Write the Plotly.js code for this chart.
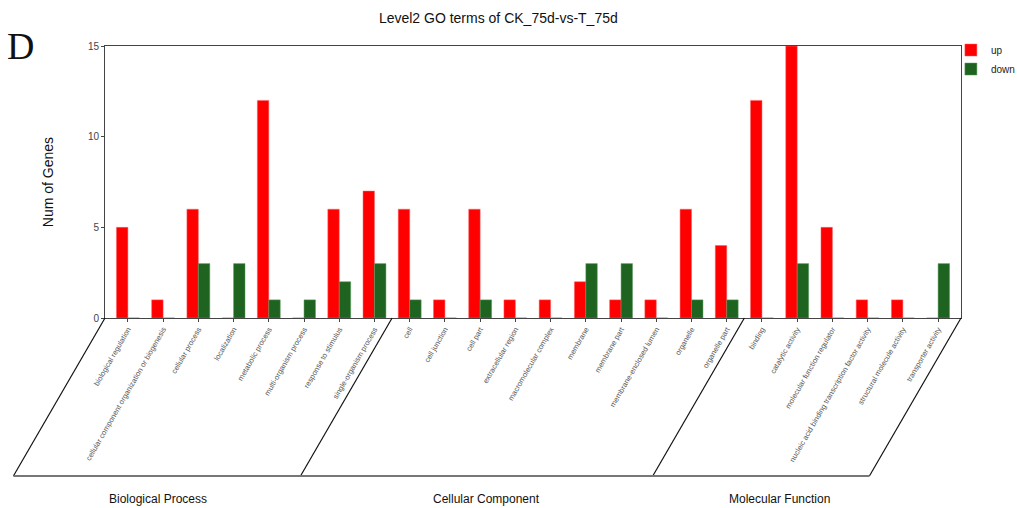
<!DOCTYPE html>
<html><head><meta charset="utf-8">
<script src="https://cdn.plot.ly/plotly-3.0.1.min.js"></script>
<style>body{margin:0;background:#fff}#chart{width:1017px;height:508px}</style>
</head><body><div id="chart"></div>
<script>
const categories = [
 "biological regulation","cellular component organization or biogenesis","cellular process","localization",
 "metabolic process","multi-organism process","response to stimulus","single-organism process",
 "cell","cell junction","cell part","extracellular region","macromolecular complex","membrane",
 "membrane part","membrane-enclosed lumen","organelle","organelle part",
 "binding","catalytic activity","molecular function regulator","nucleic acid binding transcription factor activity",
 "structural molecule activity","transporter activity"];
const upValues   = [5,1,6,0,12,0,6,7, 6,1,6,1,1,2,1,1,6,4, 12,15,5,1,1,0];
const downValues = [0,0,3,3,1,1,2,3, 1,0,1,0,0,3,3,0,1,1, 0,3,0,0,0,3];
const groupNames = ["Biological Process","Cellular Component","Molecular Function"];
const groupSizes = [8,10,6];
const yTicks = [0,5,10,15];

const idx = categories.map((_,i)=>i);
const n = categories.length;
const xmin = -0.65, xmax = n-1+0.65;
const shift = 2.6, yb = -0.581;
const toPaper = v => (v - xmin) / (xmax - xmin);

const shapes = [];
const line = (x0,y0,x1,y1,c,w)=>({type:'line',xref:'paper',yref:'paper',
  x0:toPaper(x0),y0,x1:toPaper(x1),y1,line:{color:c,width:w}});
const bounds = [xmin];
let acc = 0;
groupSizes.forEach((s,k)=>{acc+=s; bounds.push(k===groupSizes.length-1? xmax : acc-0.5);});
bounds.forEach(b=>shapes.push(line(b,0,b-shift,yb,'#111',1.2)));
shapes.push(line(bounds[0]-shift,yb,bounds[bounds.length-1]-shift,yb,'#777',2));

const labelX = [0.85, 10.17, 18.5];
const annotations = groupNames.map((g,k)=>({text:g,xref:'x',yref:'paper',x:labelX[k],y:-0.665,showarrow:false,
  font:{family:'Liberation Sans, Arial',size:12,color:'#111'},xanchor:'center',yanchor:'middle'}));
annotations.push({text:'D',xref:'paper',yref:'paper',x:-0.117,y:1.0,showarrow:false,xanchor:'left',yanchor:'middle',
  font:{family:'Liberation Serif, Times New Roman',size:38,color:'#111'}});

const data = [
 {type:'bar',name:'up',x:idx,y:upValues,marker:{color:'#FF0000',line:{color:'#ff6060',width:0.5}}},
 {type:'bar',name:'down',x:idx,y:downValues,marker:{color:'#1E6420',line:{color:'#5a9a5a',width:0.5}}}
];
const layout = {
 width:1017,height:508,margin:{l:105,r:56,t:46,b:190,autoexpand:false},
 paper_bgcolor:'#fff',plot_bgcolor:'#fff',
 barmode:'group',bargap:0.35,bargroupgap:0,
 title:{text:'Level2 GO terms of CK_75d-vs-T_75d',x:0.49,xanchor:'center',y:0.965,yanchor:'middle',
   font:{family:'Liberation Sans, Arial',size:14,color:'#111'}},
 xaxis:{range:[xmin,xmax],tickmode:'array',tickvals:idx,ticktext:categories,tickangle:-60,
   tickfont:{family:'Liberation Sans, Arial',size:7.5,color:'#555'},ticks:'outside',ticklen:3,tickcolor:'#444',
   showline:true,linecolor:'#444',linewidth:1,mirror:true,showgrid:false,zeroline:false,fixedrange:true,automargin:false},
 yaxis:{range:[0,15],tickmode:'array',tickvals:yTicks,ticks:'outside',ticklen:3,tickcolor:'#444',
   tickfont:{family:'Liberation Sans, Arial',size:10,color:'#444'},automargin:false,
   showline:true,linecolor:'#444',linewidth:1,mirror:true,showgrid:false,zeroline:false,
   title:{text:'Num of Genes',font:{family:'Liberation Sans, Arial',size:14,color:'#111'},standoff:30}},
 legend:{xref:'container',yref:'container',x:0.935,xanchor:'left',y:0.93,yanchor:'top',
   font:{family:'Liberation Sans, Arial',size:10,color:'#222'},
   itemwidth:30,tracegroupgap:0,bgcolor:'rgba(0,0,0,0)'},
 shapes, annotations, showlegend:true
};
Plotly.newPlot('chart',data,layout,{staticPlot:true});
</script></body></html>
